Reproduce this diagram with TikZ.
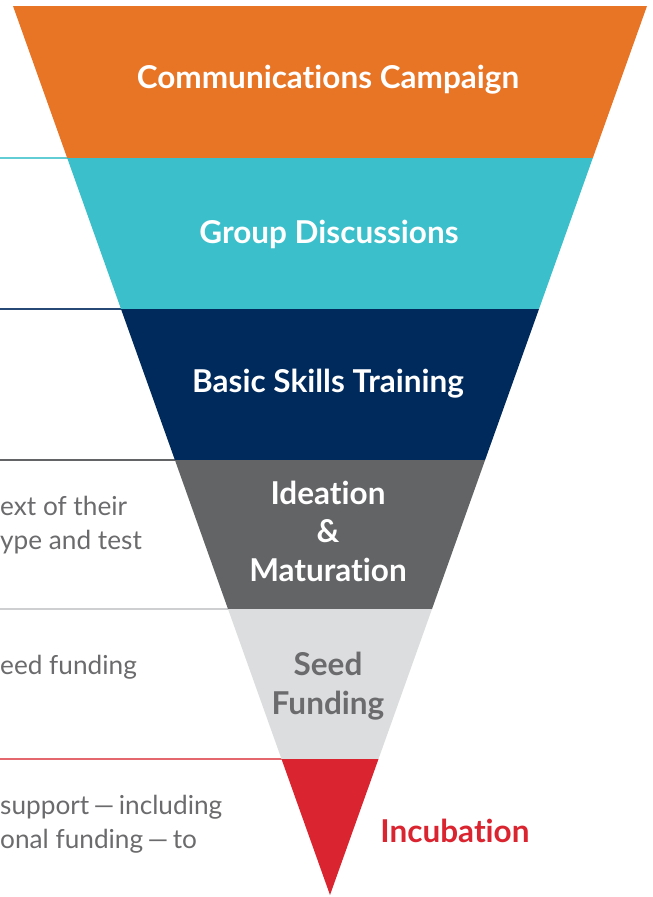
\documentclass[tikz,border=0pt]{standalone}
\usepackage{fontspec}
\setmainfont{Lato}[Ligatures={NoCommon}]
\definecolor{corange}{HTML}{E87425}
\definecolor{cteal}{HTML}{3BC0CB}
\definecolor{cnavy}{HTML}{002A5C}
\definecolor{cdgray}{HTML}{636466}
\definecolor{clgray}{HTML}{DCDDDF}
\definecolor{cred}{HTML}{DA2530}
\definecolor{ctext}{HTML}{6B6B6D}
\begin{document}
\begin{tikzpicture}[x=1pt,y=-1pt,
  lbl/.style={font=\fontsize{31.5}{38.5}\selectfont\bfseries,text=white,align=center,inner sep=0pt},
  body/.style={font=\fontsize{26.2}{34}\selectfont,text=ctext,align=left,inner sep=0pt,anchor=west},
  sep/.style={line width=1.4pt}]
\useasboundingbox (0,0) rectangle (653,897);
% corner coordinates
\coordinate (L0) at (13,6);    \coordinate (R0) at (647,6);
\coordinate (L1) at (67.2,158); \coordinate (R1) at (592.8,158);
\coordinate (L2) at (121,309);  \coordinate (R2) at (539,309);
\coordinate (L3) at (174.9,460); \coordinate (R3) at (485.1,460);
\coordinate (L4) at (228,609);  \coordinate (R4) at (432,609);
\coordinate (L5) at (281.5,759); \coordinate (R5) at (378.5,759);
\coordinate (T) at (330,895);
\coordinate (E1) at (0,158);
\coordinate (E2) at (0,309);
\coordinate (E3) at (0,460);
\coordinate (E4) at (0,609);
\coordinate (E5) at (0,759);
% separator lines
\draw[sep,cteal!80] (E1) -- ([xshift=12pt]L1);
\draw[sep,cnavy!85] (E2) -- ([xshift=12pt]L2);
\draw[sep,cdgray] (E3) -- ([xshift=12pt]L3);
\draw[sep,clgray!85!gray] (E4) -- ([xshift=12pt]L4);
\draw[sep,cred!70] (E5) -- ([xshift=12pt]L5);
% bands
\fill[corange] (L0) -- (R0) -- (R1) -- (L1) -- cycle;
\fill[cteal] (L1) -- (R1) -- (R2) -- (L2) -- cycle;
\fill[cnavy] (L2) -- (R2) -- (R3) -- (L3) -- cycle;
\fill[cdgray] (L3) -- (R3) -- (R4) -- (L4) -- cycle;
\fill[clgray] (L4) -- (R4) -- (R5) -- (L5) -- cycle;
\fill[cred] (L5) -- (R5) -- (T) -- cycle;
% labels
\node[lbl] (n1) at (328,80) {Communications Campaign};
\node[lbl] (n2) at (329,234) {Group Discussions};
\node[lbl] (n3) at (328,384) {Basic Skills Training};
\node[lbl] (n4) at (328,531) {Ideation\\\&\\Maturation};
\node[lbl,text=ctext] (n5) at (328,686) {Seed\\Funding};
\node[lbl,text=cred] (n6) at (455,831) {Incubation};
% left text
\node[body] (t1) at (0,525) {ext of their\\ype and test};
\node[body] (t2) at (0,667) {eed funding};
\node[body] (t3) at (0,824) {support\,—\,including\\onal funding\,—\,to};
\end{tikzpicture}
\end{document}
